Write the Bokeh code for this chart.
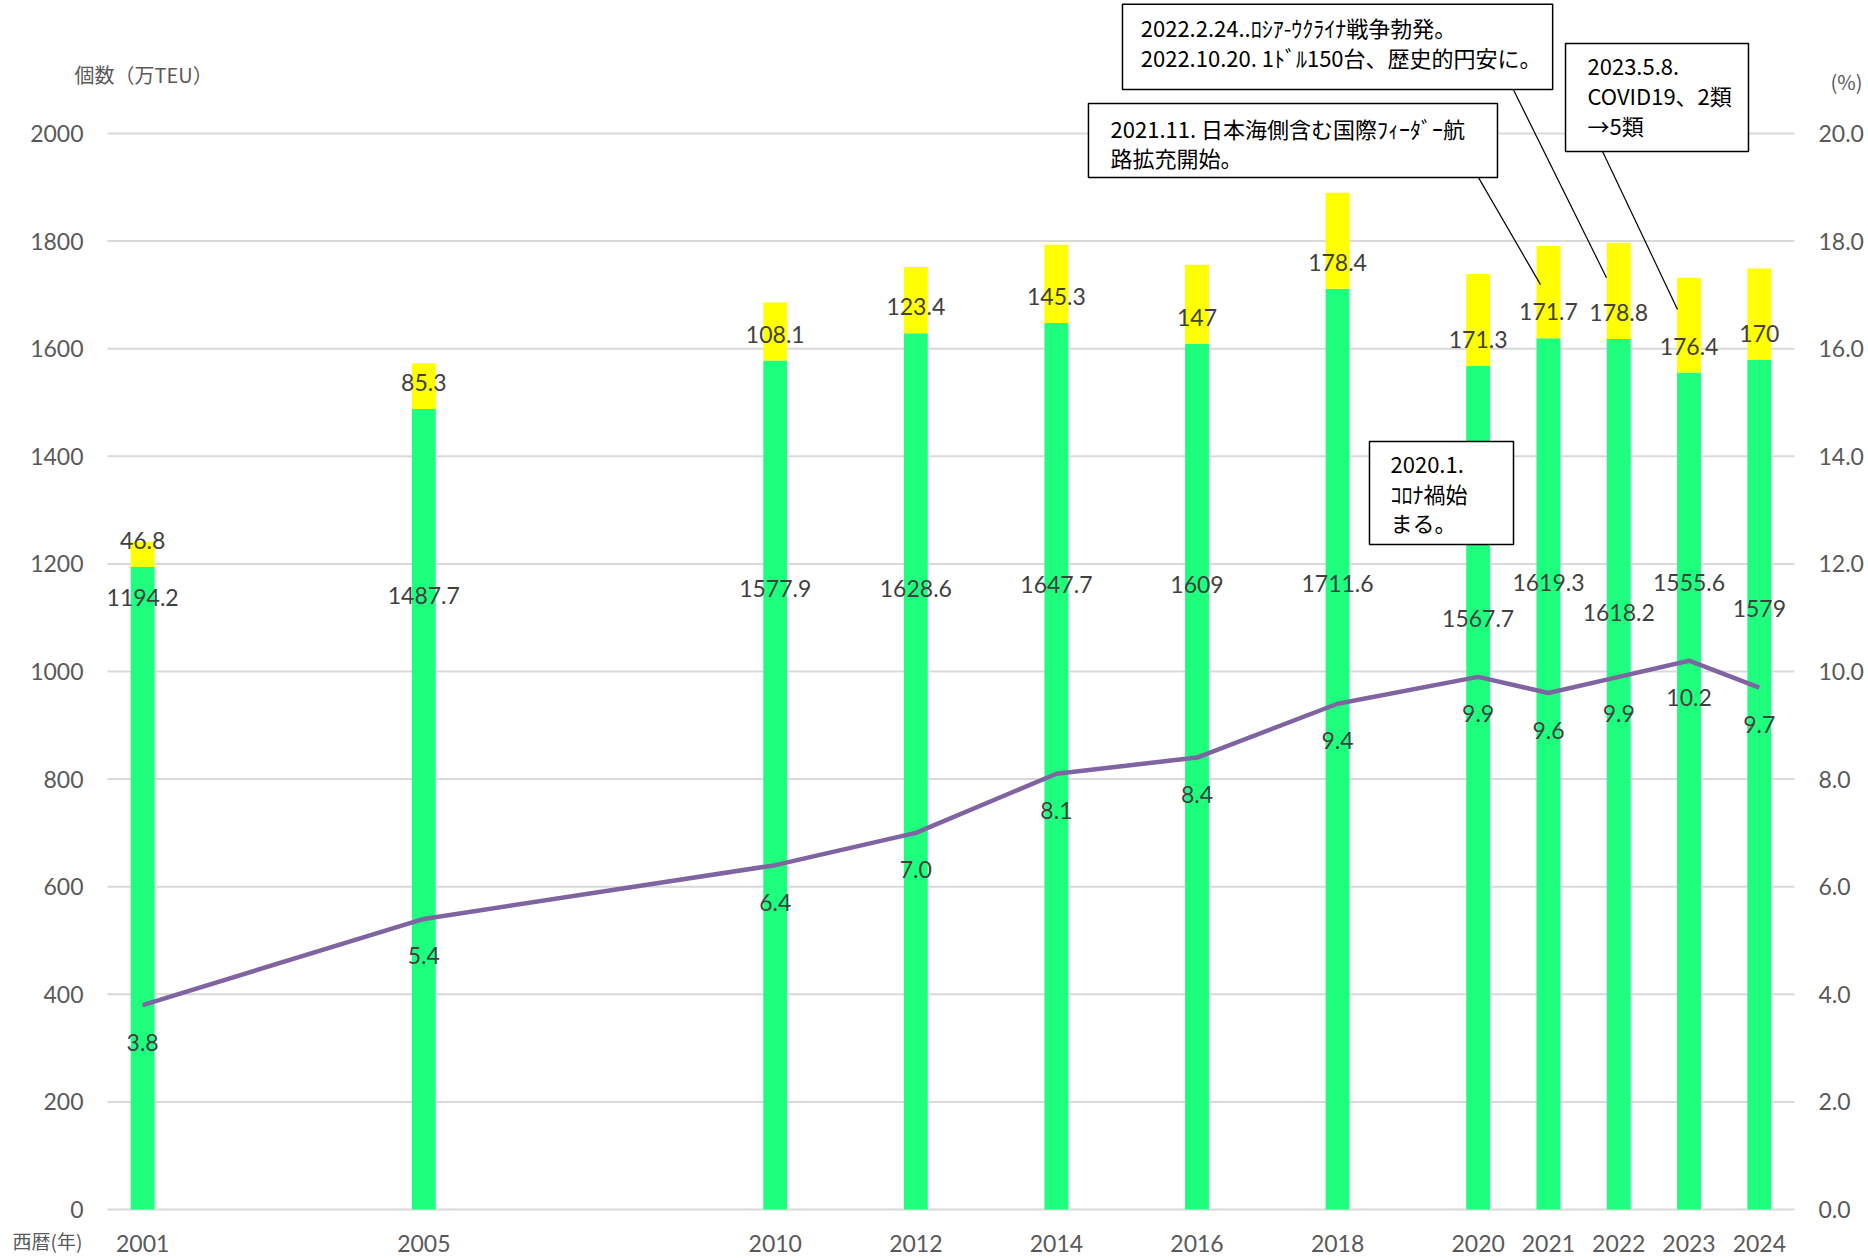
from bokeh.plotting import figure
from bokeh.models import Range1d, ColumnDataSource
from bokeh.core.properties import value
from bokeh.embed import file_html
from bokeh.resources import INLINE

# ---------------- data ----------------
years = [2001, 2005, 2010, 2012, 2014, 2016, 2018, 2020, 2021, 2022, 2023, 2024]
green_vals = [1194.2, 1487.7, 1577.9, 1628.6, 1647.7, 1609, 1711.6, 1567.7, 1619.3, 1618.2, 1555.6, 1579]
yellow_vals = [46.8, 85.3, 108.1, 123.4, 145.3, 147, 178.4, 171.3, 171.7, 178.8, 176.4, 170]
pct_vals = [3.8, 5.4, 6.4, 7.0, 8.1, 8.4, 9.4, 9.9, 9.6, 9.9, 10.2, 9.7]
green_labels = ["1194.2", "1487.7", "1577.9", "1628.6", "1647.7", "1609", "1711.6",
                "1567.7", "1619.3", "1618.2", "1555.6", "1579"]
yellow_labels = ["46.8", "85.3", "108.1", "123.4", "145.3", "147", "178.4",
                 "171.3", "171.7", "178.8", "176.4", "170"]
pct_labels = ["3.8", "5.4", "6.4", "7.0", "8.1", "8.4", "9.4", "9.9", "9.6", "9.9", "10.2", "9.7"]
left_ticks = [0, 200, 400, 600, 800, 1000, 1200, 1400, 1600, 1800, 2000]
left_tick_labels = ["0", "200", "400", "600", "800", "1000", "1200", "1400", "1600", "1800", "2000"]
right_ticks = [0, 2, 4, 6, 8, 10, 12, 14, 16, 18, 20]
right_tick_labels = ["0.0", "2.0", "4.0", "6.0", "8.0", "10.0", "12.0", "14.0", "16.0", "18.0", "20.0"]
year_labels = ["2001", "2005", "2010", "2012", "2014", "2016", "2018", "2020", "2021", "2022", "2023", "2024"]

# ---------------- layout (label placement, annotations) ----------------
green_label_y = [1138, 1141, 1154, 1154, 1161, 1161, 1163, 1099, 1165, 1110, 1165, 1118]
yellow_label_gap = 49

X0, X1 = 2000.5, 2024.5          # plotting area edges (years)
Y_MAX, PCT_MAX = 2000, 20

GREEN = "#1EFF7E"
YELLOW = "#FFFF00"
PURPLE = "#8064A2"
GRID = "#D9D9D9"
TICK = "#595959"
LBL = "#404040"
NUM_FONT = "Lato"
JP_FONT = "Noto Sans CJK JP"

W, H = 1866, 1256
p = figure(width=W, height=H, output_backend="svg", toolbar_location=None,
           x_axis_location=None, y_axis_location=None,
           x_range=Range1d(1998.9777, 2025.5250), y_range=Range1d(-87.4, 2247.2),
           min_border_left=0, min_border_right=0, min_border_top=0, min_border_bottom=0)
p.outline_line_color = None
p.background_fill_color = "white"
p.border_fill_color = "white"
p.grid.visible = False
p.extra_y_ranges = {"pct": Range1d(-0.874, 22.472)}

# gridlines
p.segment(x0=[X0] * len(left_ticks), x1=[X1] * len(left_ticks), y0=left_ticks, y1=left_ticks,
          line_color=GRID, line_width=2)

# tick labels
p.text(x=[X0] * len(left_ticks), y=left_ticks, text=left_tick_labels, x_offset=-24,
       text_align="right", text_baseline="middle", text_font=value(NUM_FONT),
       text_font_size="23px", text_color=TICK)
p.text(x=[X1] * len(right_ticks), y=right_ticks, text=right_tick_labels, x_offset=24,
       y_range_name="pct", text_align="left", text_baseline="middle", text_font=value(NUM_FONT),
       text_font_size="23px", text_color=TICK)
p.text(x=years, y=[0] * len(years), text=year_labels, y_offset=34,
       text_align="center", text_baseline="middle", text_font=value(NUM_FONT),
       text_font_size="23px", text_color=TICK)

# axis titles
p.text(x=[X0], y=[Y_MAX], text=["個数（万TEU）"], x_offset=-33, y_offset=-59,
       text_align="left", text_baseline="middle", text_font=value(JP_FONT),
       text_font_size="20px", text_color=TICK)
p.text(x=[X1], y=[PCT_MAX], text=["(%)"], x_offset=68, y_offset=-52, y_range_name="pct",
       text_align="right", text_baseline="middle", text_font=value(JP_FONT),
       text_font_size="20px", text_color=TICK)
p.text(x=[X0], y=[0], text=["西暦(年)"], x_offset=-95, y_offset=31,
       text_align="left", text_baseline="middle", text_font=value(JP_FONT),
       text_font_size="19px", text_color=TICK)

# bars
src = ColumnDataSource(dict(
    year=years, green=green_vals, yellow=yellow_vals,
    top=[g + y for g, y in zip(green_vals, yellow_vals)],
    pct=pct_vals, glab=green_labels, ylab=yellow_labels, plab=pct_labels,
    gy=green_label_y, yy=[g + yellow_label_gap for g in green_vals],
))
p.vbar(x="year", bottom=0, top="green", width=0.34, fill_color=GREEN, line_color=None, source=src)
p.vbar(x="year", bottom="green", top="top", width=0.34, fill_color=YELLOW, line_color=None, source=src)

# line
p.line(x="year", y="pct", y_range_name="pct", line_color=PURPLE, line_width=4.5, source=src)

# data labels
p.text(x="year", y="gy", text="glab", source=src, text_align="center", text_baseline="middle",
       text_font=value(NUM_FONT), text_font_size="23px", text_color=LBL)
p.text(x="year", y="yy", text="ylab", source=src, text_align="center", text_baseline="middle",
       text_font=value(NUM_FONT), text_font_size="23px", text_color=LBL)
p.text(x="year", y="pct", text="plab", source=src, y_range_name="pct", y_offset=37,
       text_align="center", text_baseline="middle",
       text_font=value(NUM_FONT), text_font_size="23px", text_color=LBL)

# annotation boxes
boxes = dict(
    left=[2014.94, 2014.456, 2021.243, 2018.454],
    right=[2021.06, 2020.275, 2023.846, 2020.503],
    top=[2240.0, 2055.8, 2167.3, 1427.5],
    bottom=[2081.8, 1918.2, 1966.5, 1236.1],
)
p.quad(left="left", right="right", top="top", bottom="bottom", source=ColumnDataSource(boxes),
       fill_color="white", line_color="black", line_width=1.5)

# leader lines
p.segment(x0=[2020.005, 2020.50, 2021.77], y0=[1918, 2081.8, 1966.5],
          x1=[2020.887, 2021.826, 2022.836], y1=[1719, 1732, 1673],
          line_color="black", line_width=1.2)

box_text = dict(
    x=[2015.20, 2015.20, 2014.77, 2014.77, 2021.556, 2021.556, 2021.556, 2018.753, 2018.753, 2018.753],
    y=[2198.0, 2142.0, 2010.0, 1956.0, 2124.0, 2071.0, 2016.0, 1383.0, 1332.0, 1278.0],
    t=["2022.2.24..ﾛｼｱ-ｳｸﾗｲﾅ戦争勃発。",
       "2022.10.20. 1ﾄﾞﾙ150台、歴史的円安に。",
       "2021.11. 日本海側含む国際ﾌｨｰﾀﾞｰ航",
       "路拡充開始。",
       "2023.5.8.",
       "COVID19、2類",
       "→5類",
       "2020.1.",
       "ｺﾛﾅ禍始",
       "まる。"],
)
p.text(x="x", y="y", text="t", source=ColumnDataSource(box_text), text_align="left",
       text_baseline="middle", text_font=value(JP_FONT), text_font_size="22px", text_color="black")

open("out.html", "w").write(file_html(p, INLINE))
